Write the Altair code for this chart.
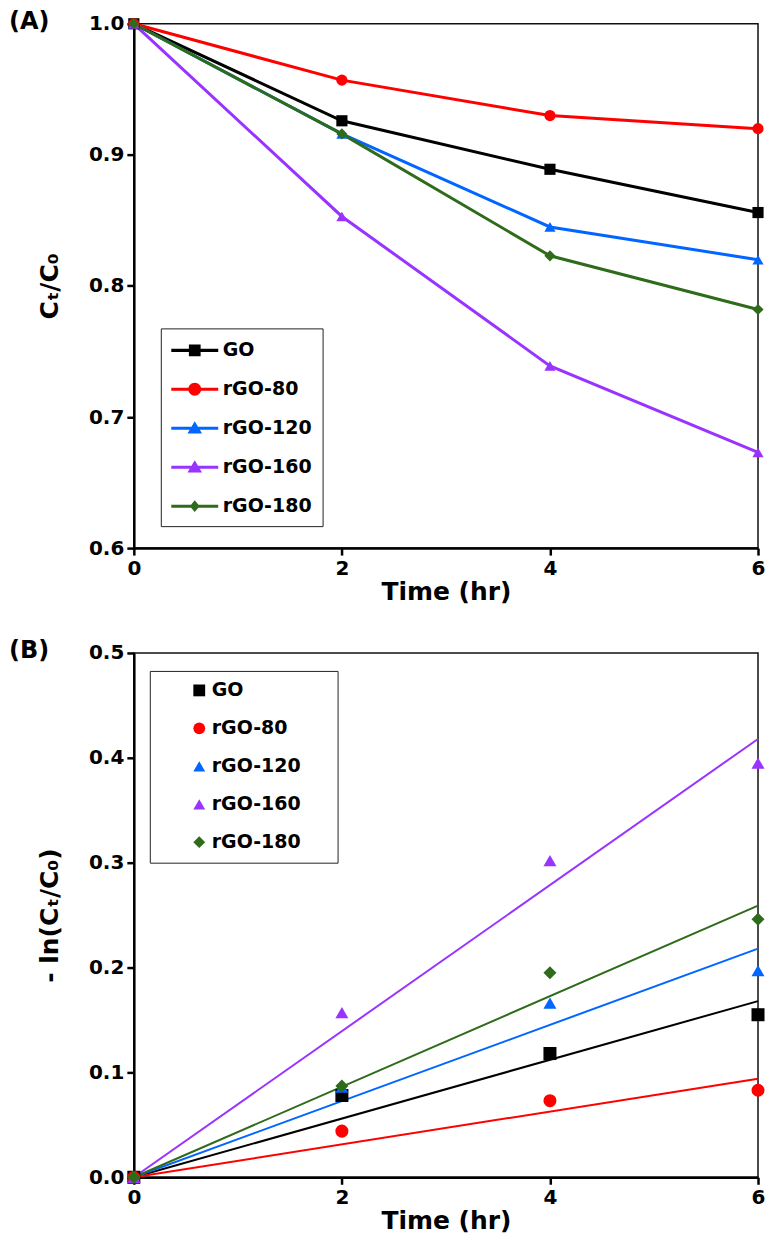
import altair as alt
import pandas as pd

# ---------------- data ----------------
time_hr = [0, 2, 4, 6]
series = ["GO", "rGO-80", "rGO-120", "rGO-160", "rGO-180"]
colors = ["#000000", "#FF0000", "#0066FF", "#9933FF", "#2E6B1A"]
shapes = ["square", "circle", "triangle-up", "triangle-up", "diamond"]

# Panel A : Ct/C0
go_ct = [1.0, 0.926, 0.889, 0.856]
rgo80_ct = [1.0, 0.957, 0.930, 0.920]
rgo120_ct = [1.0, 0.916, 0.845, 0.820]
rgo160_ct = [1.0, 0.853, 0.739, 0.673]
rgo180_ct = [1.0, 0.916, 0.823, 0.782]

# Panel B : -ln(Ct/C0)
go_ln = [0.0, 0.078, 0.118, 0.155]
rgo80_ln = [0.0, 0.044, 0.073, 0.083]
rgo120_ln = [0.0, 0.086, 0.166, 0.197]
rgo160_ln = [0.0, 0.157, 0.302, 0.395]
rgo180_ln = [0.0, 0.087, 0.195, 0.246]

# linear fits through origin: value reached at t = 6 h
fit_t = [0, 6]
fit_end = [0.168, 0.094, 0.218, 0.418, 0.259]

y_ticks_a = [0.6, 0.7, 0.8, 0.9, 1.0]
y_ticks_b = [0.0, 0.1, 0.2, 0.3, 0.4, 0.5]
x_ticks = [0, 2, 4, 6]

# ---------------- tables ----------------
ct_lists = [go_ct, rgo80_ct, rgo120_ct, rgo160_ct, rgo180_ct]
ln_lists = [go_ln, rgo80_ln, rgo120_ln, rgo160_ln, rgo180_ln]

df_a = pd.DataFrame([
    {"t": t, "v": v, "series": s}
    for s, vals in zip(series, ct_lists) for t, v in zip(time_hr, vals)
])
df_b = pd.DataFrame([
    {"t": t, "v": v, "series": s}
    for s, vals in zip(series, ln_lists) for t, v in zip(time_hr, vals)
])
df_fit = pd.DataFrame([
    {"t": t, "v": (0.0 if t == 0 else e), "series": s}
    for s, e in zip(series, fit_end) for t in fit_t
])

FONT = "DejaVu Sans"

# legend symbols for panel A: line + marker (custom paths, x in [-2,2])
seg = "M-2,-0.13 L-0.3,-0.13 L-0.3,0.13 L-2,0.13 Z M0.3,-0.13 L2,-0.13 L2,0.13 L0.3,0.13 Z "
legend_paths = [
    seg + "M-0.5,-0.5 L0.5,-0.5 L0.5,0.5 L-0.5,0.5 Z",
    seg + "M-0.55,0 A0.55,0.55 0 1,1 0.55,0 A0.55,0.55 0 1,1 -0.55,0 Z",
    seg + "M0,-0.6 L0.62,0.45 L-0.62,0.45 Z",
    seg + "M0,-0.6 L0.62,0.45 L-0.62,0.45 Z",
    seg + "M0,-0.5 L0.42,0 L0,0.5 L-0.42,0 Z",
]

W, H = 625, 525

x_enc = alt.X("t:Q", title="Time (hr)",
              scale=alt.Scale(domain=[0, 6], nice=False),
              axis=alt.Axis(values=x_ticks, format="d"))

color_scale = alt.Scale(domain=series, range=colors)


def legend_a_def():
    return alt.Legend(orient="none", legendX=27, legendY=305,
                      strokeColor="#222222", fillColor="white",
                      padding=10, symbolSize=552, symbolOffset=12,
                      labelOffset=16, rowPadding=17, symbolStrokeWidth=0,
                      labelFont=FONT, labelFontSize=19, labelFontWeight="bold",
                      labelColor="black", symbolOpacity=1)


def legend_b_def():
    # an invisible (white) title on the right widens the box like the original
    return alt.Legend(orient="none", legendX=16, legendY=18,
                      strokeColor="#222222", fillColor="white",
                      padding=10, symbolSize=140, symbolOffset=30,
                      labelOffset=3, rowPadding=18, symbolStrokeWidth=0,
                      labelFont=FONT, labelFontSize=19, labelFontWeight="bold",
                      labelColor="black", symbolOpacity=1,
                      titleOrient="right", titleColor="white", titlePadding=20,
                      titleFontSize=19, titleFont=FONT)


def panel(df_pts, df_lines, y_enc, line_w, pt_size, leg_paths, leg_def, tag, leg_title):
    lines = alt.Chart(df_lines).mark_line(strokeWidth=line_w).encode(
        x=x_enc, y=y_enc,
        color=alt.Color("series:N", scale=color_scale, legend=None),
        detail="series:N",
    )
    pts = alt.Chart(df_pts).mark_point(filled=True, size=pt_size, opacity=1).encode(
        x=x_enc, y=y_enc,
        color=alt.Color("series:N", scale=color_scale, legend=None),
        shape=alt.Shape("series:N", scale=alt.Scale(domain=series, range=shapes), legend=None),
    )
    leg = alt.Chart(df_pts).mark_point(filled=True, opacity=0).encode(
        x=x_enc, y=y_enc,
        color=alt.Color("series:N", scale=color_scale, title=leg_title, legend=leg_def()),
        shape=alt.Shape("series:N", scale=alt.Scale(domain=series, range=leg_paths),
                        title=leg_title, legend=leg_def()),
    )
    lab = alt.Chart(pd.DataFrame({"lab": [tag]})).mark_text(
        font=FONT, fontSize=24, fontWeight="bold", align="left", baseline="middle",
        color="black"
    ).encode(text="lab:N", x=alt.value(-125), y=alt.value(-2))
    return alt.layer(lines, pts, leg, lab).resolve_scale(
        shape="independent", color="independent"
    ).resolve_legend(shape="independent", color="independent").properties(
        width=W, height=H)


# ---------------- panel A ----------------
ya = alt.Y("v:Q", title="Cₜ/C₀",
           scale=alt.Scale(domain=[0.6, 1.0], nice=False, zero=False),
           axis=alt.Axis(values=y_ticks_a, format=".1f"))
chart_a = panel(df_a, df_a, ya, 3, 125, legend_paths, legend_a_def, "(A)", None)

# ---------------- panel B ----------------
yb = alt.Y("v:Q", title="- ln(Cₜ/C₀)",
           scale=alt.Scale(domain=[0.0, 0.5], nice=False),
           axis=alt.Axis(values=y_ticks_b, format=".1f"))
chart_b = panel(df_b, df_fit, yb, 2, 170, shapes, legend_b_def, "(B)", "|")

# ---------------- combine ----------------
chart = alt.vconcat(chart_a, chart_b, spacing=33).properties(
    padding={"left": 0, "top": 0, "right": 0, "bottom": 0}
).configure_view(
    stroke="#111111", strokeWidth=1.5
).configure_axis(
    grid=False, domainColor="black", domainWidth=2.5, tickColor="black",
    tickWidth=2.5, tickSize=7, labelFont=FONT, labelFontSize=20,
    labelFontWeight="bold", labelColor="black", labelPadding=3, labelFlush=False,
    titleFont=FONT, titleFontSize=25, titleFontWeight="bold", titleColor="black",
).configure_axisX(titlePadding=1).configure_axisY(titlePadding=26)

chart.save("out.html", embed_options={"renderer": "svg", "actions": False})
